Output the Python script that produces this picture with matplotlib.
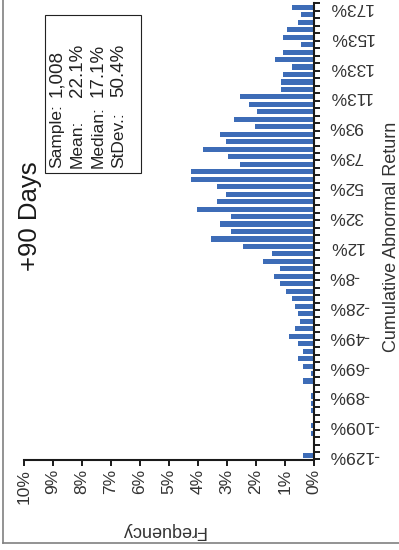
import matplotlib
matplotlib.use("Agg")
import matplotlib.pyplot as plt
from matplotlib.patches import Rectangle
from matplotlib.lines import Line2D
import numpy as np

plt.rcParams['font.family'] = ['Liberation Sans', 'DejaVu Sans']

# frequency (%) per bin, lowest bin (-129%) first
freq = [0.37, 0.0, 0.0, 0.10, 0.10, 0.0, 0.10, 0.10, 0.10, 0.0,
        0.37, 0.10, 0.37, 0.56, 0.37, 0.56, 0.86, 0.67, 0.47, 0.56,
        0.67, 0.76, 0.97, 1.16, 1.37, 1.16, 1.76, 1.46, 2.45, 3.54,
        2.85, 3.25, 2.85, 4.05, 3.34, 3.05, 3.34, 4.24, 4.24, 2.55,
        2.95, 3.84, 3.05, 3.24, 2.05, 2.75, 1.95, 2.25, 2.55, 1.15,
        1.15, 1.06, 0.75, 1.36, 1.06, 0.46, 1.06, 0.94, 0.56, 0.46,
        0.76]
# every 4th bin is labelled
cat_labels = ["-129%", "-109%", "-89%", "-69%", "-49%", "-28%", "-8%", "12%",
              "32%", "52%", "73%", "93%", "113%", "133%", "153%", "173%"]
freq_ticks = [0, 1, 2, 3, 4, 5, 6, 7, 8, 9, 10]

stat_names = ["Sample:", "Mean:", "Median:", "StDev.:"]
stat_values = ["1,008", "22.1%", "17.1%", "50.4%"]
title = "+90 Days"

W, H = 399, 550


def fx(px):
    return px / W


def fy(py):
    return 1 - py / H


fig = plt.figure(figsize=(W / 100, H / 100), dpi=100)

# chart is drawn already turned on its side
ax = fig.add_axes([fx(24), fy(459.5), (314 - 24) / W, (459.5 - 3.5) / H])
pos = np.arange(len(freq))
ax.barh(pos, freq, height=0.68, color='#3D6CB7')
ax.set_xlim(10, 0)
ax.set_ylim(-0.5, len(freq) - 0.5)

for s in ['left', 'top']:
    ax.spines[s].set_visible(False)
for s in ['right', 'bottom']:
    ax.spines[s].set_linewidth(1.5)
    ax.spines[s].set_color('#1a1a1a')

ax.yaxis.tick_right()
ax.set_yticks(pos[::4])
ax.set_yticklabels(cat_labels, rotation=180, va='center', fontsize=12.5, color='#333333')
ax.set_yticks(np.arange(-0.5, len(freq)), minor=True)
ax.tick_params(axis='y', which='major', length=0, pad=10.5)
ax.tick_params(axis='y', which='minor', length=4.5, width=1.4, color='#1a1a1a')

ax.set_xticks(freq_ticks)
ax.set_xticklabels([f"{v}%" for v in freq_ticks], rotation=90, fontsize=12.5, color='#333333')
ax.tick_params(axis='x', length=4, width=1.4, pad=3, color='#1a1a1a')

fig.text(fx(163), fy(531), "Frequency", rotation=180, ha='center', va='center',
         fontsize=13, color='#333333')
fig.text(fx(391), fy(237), "Cumulative Abnormal Return", rotation=90, ha='center',
         va='center', fontsize=13, color='#333333')

fig.text(fx(30), fy(216), title, rotation=90, ha='center', va='center', fontsize=18.5,
         color='#1a1a1a')

# stats box
fig.add_artist(Rectangle((fx(45), fy(173)), (140.5 - 45) / W, (173 - 15) / H,
                         transform=fig.transFigure, facecolor='white',
                         edgecolor='#222222', linewidth=0.8))
for i, (lab, val) in enumerate(zip(stat_names, stat_values)):
    xb = 61 + i * 20.8
    fig.text(fx(xb), fy(168), lab, rotation=90, rotation_mode='anchor', ha='left',
             va='baseline', fontsize=12.5, color='#222222')
    fig.text(fx(xb), fy(97), val, rotation=90, rotation_mode='anchor', ha='left',
             va='baseline', fontsize=13.5, color='#222222')

# outer frame (left and bottom edges only)
fig.add_artist(Line2D([fx(2.7), fx(2.7)], [fy(0), fy(543)], color='#808080', lw=1.2))
fig.add_artist(Line2D([fx(2.7), fx(399)], [fy(543), fy(543)], color='#808080', lw=1.2))

fig.savefig('out.png', dpi=100)
